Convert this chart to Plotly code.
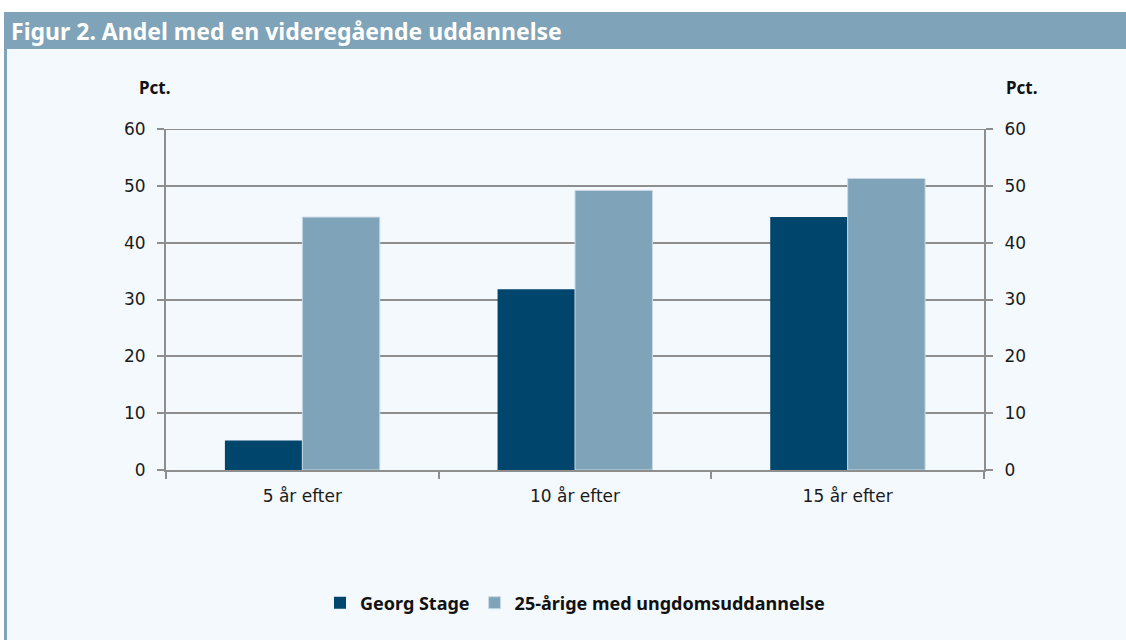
import plotly.graph_objects as go

categories = ["5 år efter", "10 år efter", "15 år efter"]
georg_stage = [5.2, 31.8, 44.5]
ungdom = [44.5, 49.2, 51.3]
series_names = ["Georg Stage", "25-årige med ungdomsuddannelse"]
y_ticks = [0, 10, 20, 30, 40, 50, 60]

W, H = 1126, 640
L, R, T, B = 166, 142, 129, 170
pw, ph = W - L - R, H - T - B

def px(x):
    return (x - L) / pw

def py(y):
    return (H - B - y) / ph

DARK = "#00456b"
LIGHT = "#7fa3b8"
BG = "#f4f9fd"
GRID = "#8e8e8e"

fig = go.Figure()
fig.add_trace(go.Bar(x=categories, y=georg_stage, name=series_names[0],
                     marker=dict(color=DARK, line=dict(width=0))))
fig.add_trace(go.Bar(x=categories, y=ungdom, name=series_names[1],
                     marker=dict(color=LIGHT, line=dict(color="#c9dae5", width=1))))
fig.add_trace(go.Scatter(x=categories, y=[None] * 3, yaxis="y2", mode="markers",
                         showlegend=False, hoverinfo="skip"))

shapes = [
    dict(type="rect", xref="paper", yref="paper", x0=px(7), x1=px(W), y0=py(H), y1=py(48),
         fillcolor=BG, line=dict(width=0), layer="below"),
    dict(type="rect", xref="paper", yref="paper", x0=px(4), x1=px(W), y0=py(49), y1=py(12),
         fillcolor=LIGHT, line=dict(width=0), layer="below"),
    dict(type="rect", xref="paper", yref="paper", x0=px(4), x1=px(7), y0=py(H), y1=py(48),
         fillcolor=LIGHT, line=dict(width=0), layer="below"),
    dict(type="line", xref="paper", yref="y", x0=0, x1=1, y0=y_ticks[-1], y1=y_ticks[-1],
         line=dict(color=GRID, width=2), layer="below"),
]

annotations = [
    dict(text="<b>Figur 2. Andel med en videregående uddannelse</b>", xref="paper", yref="paper",
         x=px(9), y=py(31), xanchor="left", yanchor="middle", showarrow=False,
         font=dict(family="Noto Sans", size=23, color="white")),
    dict(text="<b>Pct.</b>", xref="paper", yref="paper", x=px(154), y=py(87),
         xanchor="center", yanchor="middle", showarrow=False,
         font=dict(family="Noto Sans", size=17, color="#111111")),
    dict(text="<b>Pct.</b>", xref="paper", yref="paper", x=px(1021), y=py(87),
         xanchor="center", yanchor="middle", showarrow=False,
         font=dict(family="Noto Sans", size=17, color="#111111")),
]

axis_font = dict(family="DejaVu Sans", size=17, color="#1a1a1a")

fig.update_layout(
    width=W, height=H,
    margin=dict(l=L, r=R, t=T, b=B, pad=0),
    paper_bgcolor="white",
    plot_bgcolor="rgba(0,0,0,0)",
    barmode="group", bargap=0.432, bargroupgap=0,
    shapes=shapes, annotations=annotations,
    xaxis=dict(showline=True, linecolor=GRID, linewidth=2, ticks="outside",
               tickson="boundaries", ticklen=7, tickcolor=GRID, tickwidth=2,
               showgrid=False, tickfont=axis_font, zeroline=False,
               ticklabelstandoff=10),
    yaxis=dict(range=[0, 60], tickvals=y_ticks, showline=True, linecolor=GRID, linewidth=2,
               ticks="outside", ticklen=7, tickcolor=GRID, tickwidth=2, showgrid=True,
               gridcolor=GRID, gridwidth=2, zeroline=False, tickfont=axis_font,
               ticklabelstandoff=8),
    yaxis2=dict(range=[0, 60], tickvals=y_ticks, overlaying="y", side="right",
                showline=True, linecolor=GRID, linewidth=2, ticks="outside", ticklen=7,
                tickcolor=GRID, tickwidth=2, showgrid=False, zeroline=False,
                tickfont=axis_font, ticklabelstandoff=8),
    legend=dict(orientation="h", x=0.5, xanchor="center", y=py(603), yanchor="middle",
                font=dict(family="Noto Sans", size=18, color="#111111", weight="bold"),
                bgcolor="rgba(0,0,0,0)", itemwidth=30, traceorder="normal"),
    font=dict(family="Noto Sans"),
)

fig.write_html("out.html", config={"displayModeBar": False},
               post_script="document.body.style.margin='0';")
